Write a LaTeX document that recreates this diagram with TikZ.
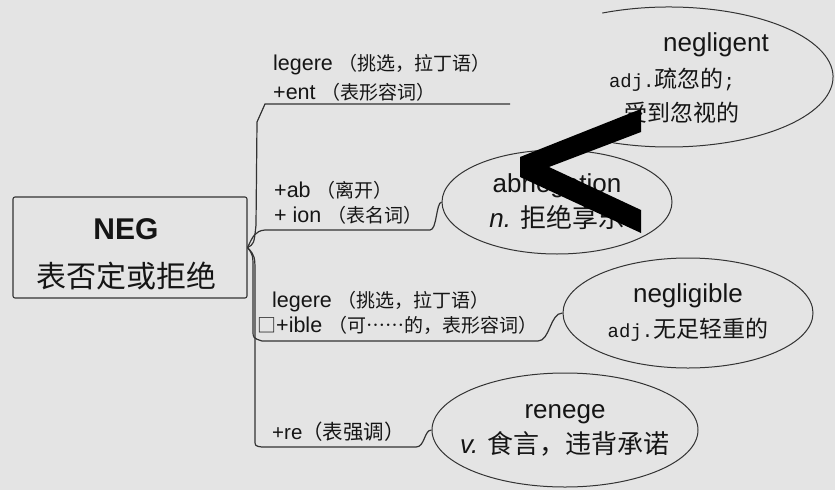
\documentclass[tikz,border=0pt]{standalone}
\usepackage{fontspec}
\setmainfont{Liberation Sans}
\newfontfamily\cjk[Script=CJK, Language=Chinese Simplified]{Noto Sans CJK SC}
\newfontfamily\mono{Liberation Mono}
\usetikzlibrary{shapes.geometric, positioning}

\definecolor{grund}{HTML}{E4E4E4}
\definecolor{linie}{HTML}{333333}
\definecolor{schrift}{HTML}{151515}

\newcommand\zh[1]{{\cjk\fontsize{19}{25}\selectfont #1}}
\newcommand\adj{{\mono\fontsize{19}{20}\selectfont adj.}}

\begin{document}
\begin{tikzpicture}[x=1pt, y=-1pt,
  ast/.style={draw=linie, line width=1.2pt},
  wurzel/.style={draw=linie, line width=1.1pt, rounded corners=2pt,
    minimum width=234pt, minimum height=101pt},
  zweig/.style={anchor=west, align=left, inner sep=0pt, text=schrift,
    font=\fontsize{21.5}{25}\selectfont},
  wort/.style={ellipse, draw=linie, line width=1pt, inner sep=0pt},
  wtext/.style={align=center, inner sep=0pt, text=schrift,
    font=\fontsize{26}{35}\selectfont}]
  \useasboundingbox (0,0) rectangle (835,490);
  \fill[grund] (0,0) rectangle (835,490);

  % Wurzel
  \node[wurzel] (neg) at (130,247.5) {};
  \node[align=center, text=schrift, font=\fontsize{30}{48}\selectfont]
    (negT) at (126,254) {\textbf{NEG}\\{\cjk 表否定或拒绝}};

  % Zweige
  \node[zweig] (z1) at (273,77.5)
    {legere \zh{（挑选，拉丁语）}\\[4pt]+ent \zh{（表形容词）}};
  \node[zweig] (z2) at (274,202.5)
    {+ab \zh{（离开）}\\+ ion \zh{（表名词）}};
  \node[zweig] (z3) at (257,313)
    {\hspace*{15pt}legere \zh{（挑选，拉丁语）}\\\zh{□}+ible \zh{（可……的，表形容词）}};
  \node[zweig, font=\fontsize{20.5}{24}\selectfont] (z4) at (272,432)
    {+re{\cjk（表强调）}};

  % Woerter
  \coordinate (ngl) at (669,77);
  \node[wort, minimum width=230pt, minimum height=104pt] (abn) at (557,202) {};
  \node[wort, minimum width=250pt, minimum height=110pt] (ngb) at (688,313) {};
  \node[wort, minimum width=266pt, minimum height=114pt] (ren) at (565,430) {};

  \draw[ast, line width=1pt] (ngl) ++(114:164pt and 70pt)
    arc[start angle=114, end angle=-110, x radius=164pt, y radius=70pt];
  \node[wtext] (nglA) at (716,45) {negligent};
  \node[wtext] (nglB) at (672,80) {\adj{\cjk\fontsize{23}{26}\selectfont 疏忽的}{\mono\fontsize{19}{20}\selectfont;}};
  \node[wtext] (nglC) at (682,113) {\cjk\fontsize{23}{26}\selectfont 受到忽视的};
  \node[wtext] (abnT) at (abn) {abnegation\\\textit{n.} {\cjk 拒绝享乐}};
  \node[wtext] (ngbT) at (ngb) {negligible\\\adj{\cjk\fontsize{23}{26}\selectfont 无足轻重的}};
  \node[wtext] (renT) at (ren) {renege\\\textit{v.} {\cjk 食言，违背承诺}};

  % Verbindungen
  \coordinate (e1) at (510,104);
  \draw[ast] (neg.east) .. controls (254,244) .. (256,225)
    -- (257,122) -- (265,104) -- (e1);
  \draw[ast] (neg.east) .. controls (253,236) and (255,231) .. (265,230)
    -- (430,230) .. controls (437,230) and (436,203) .. (abn.west);
  \draw[ast] (neg.east) .. controls (253,255) .. (253,270)
    -- (253,330) .. controls (253,338) .. (262,341)
    -- (538,341) .. controls (550,341) and (550,313) .. (ngb.west);
  \draw[ast] (neg.east) .. controls (255,256) .. (255,275)
    -- (255,440) .. controls (255,446) .. (262,447)
    -- (416,447) .. controls (425,447) and (424,430) .. (ren.west);

  % Winkel
  \fill[black] (641,109) -- (520,157) -- (520,177) -- (641,233)
    -- (641,210) -- (549,167) -- (641,132) -- cycle;
\end{tikzpicture}
\end{document}
